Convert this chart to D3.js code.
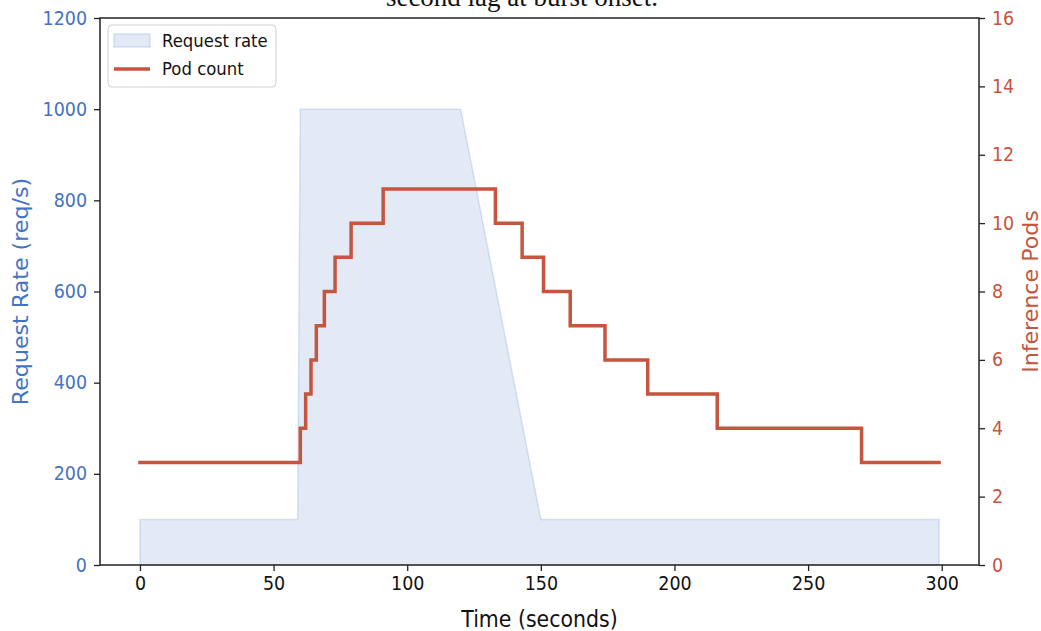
<!DOCTYPE html>
<html>
<head>
<meta charset="utf-8">
<script src="https://cdn.jsdelivr.net/npm/d3@7"></script>
<style>
  html, body { margin: 0; padding: 0; background: #fff; }
  svg { display: block; }
  .vs { transform-box: fill-box; transform-origin: center; transform: scaleY(1.08); }
</style>
</head>
<body>
<svg id="chart" width="1041" height="631"></svg>
<script>
// ---- data ----
const rateTimes  = [0, 59, 60, 120, 150, 299];
const rateValues = [100, 100, 1000, 1000, 100, 100];

const podTimes  = [0, 60, 62, 64, 66, 69, 73, 79, 91, 133, 143, 151, 161, 174, 190, 216, 270, 299];
const podCounts = [3, 4, 5, 6, 7, 8, 9, 10, 11, 10, 9, 8, 7, 6, 5, 4, 3, 3];

const xTicks = [0, 50, 100, 150, 200, 250, 300];
const leftTicks = [0, 200, 400, 600, 800, 1000, 1200];
const rightTicks = [0, 2, 4, 6, 8, 10, 12, 14, 16];

const captionText = "second lag at burst onset.";
const xLabel = "Time (seconds)";
const leftLabel = "Request Rate (req/s)";
const rightLabel = "Inference Pods";
const legendLabels = ["Request rate", "Pod count"];

// ---- layout ----
const blue = "#4472C4";
const red = "#C4553F";
const L = 100, R = 979, T = 18, B = 565;
const VS = 1.08;

const svg = d3.select("#chart");

const x = d3.scaleLinear().domain([-14.95, 313.95]).range([L, R]);
const yL = d3.scaleLinear().domain([0, 1200]).range([B, T]);
const yR = d3.scaleLinear().domain([0, 16]).range([B, T]);

// caption (partially clipped at top, as in the source)
svg.append("text")
  .attr("x", 522).attr("y", 6)
  .attr("text-anchor", "middle")
  .attr("font-family", "Liberation Serif, Times New Roman, serif")
  .attr("font-size", 27)
  .attr("fill", "#111")
  .text(captionText);

// request rate area
const rateData = rateTimes.map((t, i) => ({t, v: rateValues[i]}));
svg.append("path")
  .datum(rateData)
  .attr("d", d3.area().x(d => x(d.t)).y0(yL(0)).y1(d => yL(d.v)))
  .attr("fill", blue).attr("fill-opacity", 0.15)
  .attr("stroke", blue).attr("stroke-opacity", 0.18).attr("stroke-width", 1.5);

// pod count step line
const podData = podTimes.map((t, i) => ({t, v: podCounts[i]}));
svg.append("path")
  .datum(podData)
  .attr("d", d3.line().x(d => x(d.t)).y(d => yR(d.v)).curve(d3.curveStepAfter))
  .attr("fill", "none")
  .attr("stroke", red).attr("stroke-width", 3.5)
  .attr("stroke-linecap", "square");

// axes
const tickFont = "DejaVu Sans, sans-serif";
function styleAxis(g, textColor) {
  g.select(".domain").remove();
  g.selectAll(".tick line").attr("stroke", "#222").attr("stroke-width", 1.3);
  g.selectAll(".tick text").attr("fill", textColor)
    .attr("font-family", tickFont).attr("font-size", 17.5)
    .attr("class", "vs");
}

const gx = svg.append("g").attr("transform", `translate(0,${B})`)
  .call(d3.axisBottom(x).tickValues(xTicks).tickFormat(d3.format("d")).tickSize(6).tickPadding(6));
styleAxis(gx, "#111");

const gl = svg.append("g").attr("transform", `translate(${L},0)`)
  .call(d3.axisLeft(yL).tickValues(leftTicks).tickFormat(d3.format("d")).tickSize(6).tickPadding(7));
styleAxis(gl, blue);

const gr = svg.append("g").attr("transform", `translate(${R},0)`)
  .call(d3.axisRight(yR).tickValues(rightTicks).tickFormat(d3.format("d")).tickSize(6).tickPadding(7));
styleAxis(gr, red);

// spines
svg.append("rect")
  .attr("x", L).attr("y", T).attr("width", R - L).attr("height", B - T)
  .attr("fill", "none").attr("stroke", "#222").attr("stroke-width", 1.5);

// axis labels
svg.append("text")
  .attr("x", (L + R) / 2).attr("y", 626)
  .attr("text-anchor", "middle")
  .attr("class", "vs")
  .attr("font-family", tickFont).attr("font-size", 20.5).attr("fill", "#111")
  .text(xLabel);

svg.append("g")
  .attr("transform", `translate(28,${(T + B) / 2}) scale(1,${VS})`)
  .append("text")
  .attr("transform", "rotate(-90)")
  .attr("text-anchor", "middle")
  .attr("font-family", tickFont).attr("font-size", 20.5).attr("fill", blue)
  .text(leftLabel);

svg.append("g")
  .attr("transform", `translate(1038,${(T + B) / 2}) scale(1,${VS})`)
  .append("text")
  .attr("transform", "rotate(-90)")
  .attr("text-anchor", "middle")
  .attr("font-family", tickFont).attr("font-size", 20.5).attr("fill", red)
  .text(rightLabel);

// legend
const lg = svg.append("g");
lg.append("rect")
  .attr("x", 108).attr("y", 25).attr("width", 168).attr("height", 62).attr("rx", 4)
  .attr("fill", "#fff").attr("fill-opacity", 0.8)
  .attr("stroke", "#d0d0d0").attr("stroke-width", 1);
lg.append("rect")
  .attr("x", 114).attr("y", 34).attr("width", 36).attr("height", 13)
  .attr("fill", blue).attr("fill-opacity", 0.15)
  .attr("stroke", blue).attr("stroke-opacity", 0.18).attr("stroke-width", 1.5);
lg.append("line")
  .attr("x1", 114).attr("x2", 150).attr("y1", 69).attr("y2", 69)
  .attr("stroke", red).attr("stroke-width", 3.5);
lg.append("text")
  .attr("x", 162).attr("y", 47)
  .attr("class", "vs")
  .attr("font-family", tickFont).attr("font-size", 16.5).attr("fill", "#111")
  .text(legendLabels[0]);
lg.append("text")
  .attr("x", 162).attr("y", 75)
  .attr("class", "vs")
  .attr("font-family", tickFont).attr("font-size", 16.5).attr("fill", "#111")
  .text(legendLabels[1]);
</script>
</body>
</html>
